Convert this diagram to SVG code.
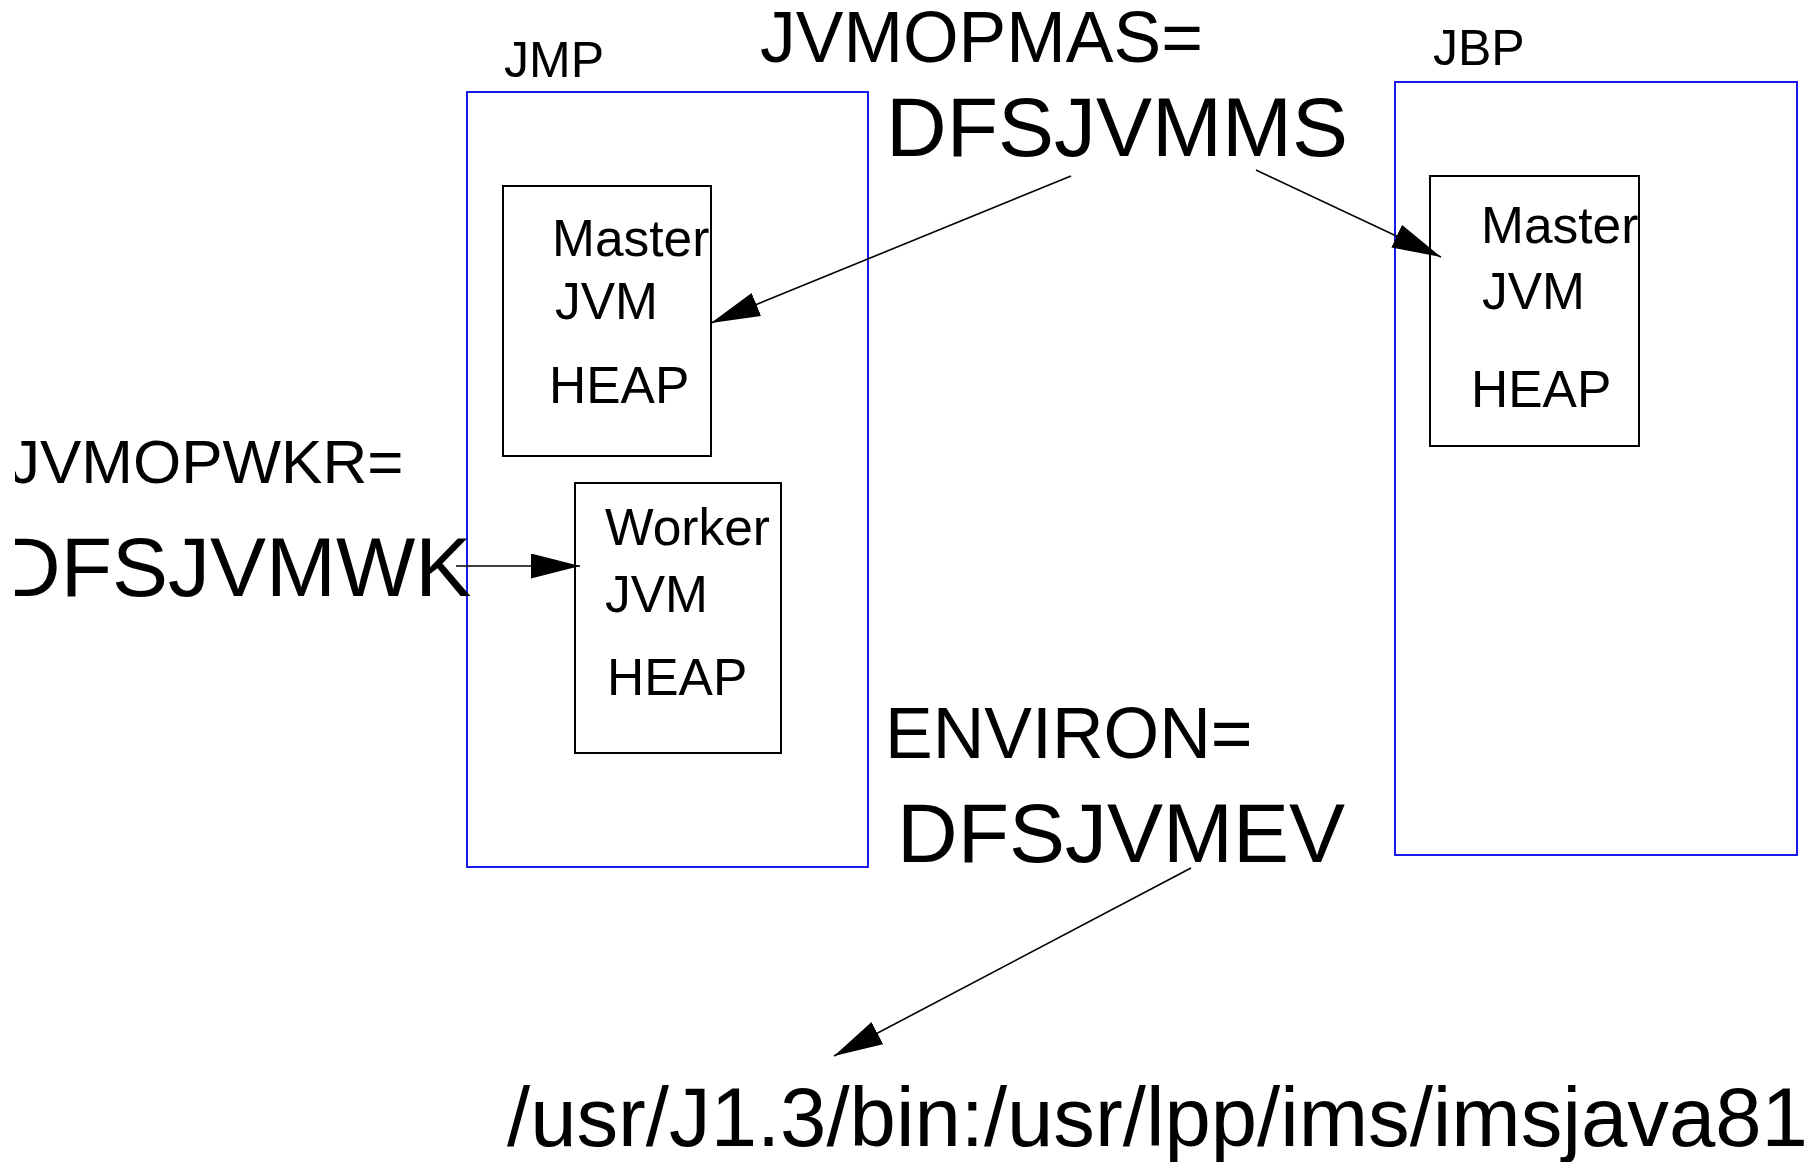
<svg xmlns="http://www.w3.org/2000/svg" width="1815" height="1162" viewBox="0 0 1815 1162">
<style>
text{font-family:"Liberation Sans",Arial,sans-serif;fill:#000}
.region{fill:none;stroke:#0000e6;stroke-width:1.8}
.heap{fill:none;stroke:#000;stroke-width:2}
.conn{fill:none;stroke:#000;stroke-width:1.6}
.t50{font-size:50px}
.t51{font-size:51.5px}
.t62{font-size:62px}
.t72{font-size:71.5px}
.t84{font-size:84px}
.tpath{font-size:83.3px}
</style>
<defs>
<marker id="arr" markerUnits="userSpaceOnUse" markerWidth="50" markerHeight="26" refX="49" refY="12.5" orient="auto">
<path d="M0,0 L49,12.5 L0,25 z" fill="#000"/>
</marker>
<clipPath id="leftclip"><rect x="15" y="0" width="1800" height="1162"/></clipPath>
</defs>
<rect width="1815" height="1162" fill="#fff"/>
<g id="jmp">
<rect class="region" x="467" y="92" width="401" height="775"/>
<text class="t50" x="504" y="77">JMP</text>
</g>
<g id="jbp">
<rect class="region" x="1395" y="82" width="402" height="773"/>
<text class="t50" x="1433" y="65">JBP</text>
</g>
<g id="jmp-master">
<rect class="heap" x="503" y="186" width="208" height="270"/>
<text class="t51" x="552" y="256">Master</text>
<text class="t51" x="555" y="319">JVM</text>
<text class="t51" x="549" y="403">HEAP</text>
</g>
<g id="jmp-worker">
<rect class="heap" x="575" y="483" width="206" height="270"/>
<text class="t51" x="605" y="545">Worker</text>
<text class="t51" x="605" y="612">JVM</text>
<text class="t51" x="607" y="695">HEAP</text>
</g>
<g id="jbp-master">
<rect class="heap" x="1430" y="176" width="209" height="270"/>
<text class="t51" x="1481" y="243">Master</text>
<text class="t51" x="1482" y="309">JVM</text>
<text class="t51" x="1471" y="407">HEAP</text>
</g>
<g id="jvmopmas">
<text class="t72" x="760" y="62">JVMOPMAS=</text>
<text class="t84" x="886" y="156">DFSJVMMS</text>
</g>
<g id="jvmopwkr" clip-path="url(#leftclip)">
<text class="t62" x="9" y="483">JVMOPWKR=</text>
<text class="t84" x="0" y="596">DFSJVMWK</text>
</g>
<g id="environ">
<text class="t72" x="885" y="758">ENVIRON=</text>
<text class="t84" x="897" y="862">DFSJVMEV</text>
</g>
<g id="path-value">
<text class="tpath" x="507" y="1146">/usr/J1.3/bin:/usr/lpp/ims/imsjava81</text>
</g>
<g id="connectors">
<line class="conn" x1="1071" y1="176" x2="711" y2="323" marker-end="url(#arr)"/>
<line class="conn" x1="1256" y1="170" x2="1441" y2="257" marker-end="url(#arr)"/>
<line class="conn" x1="456" y1="566" x2="580" y2="566" marker-end="url(#arr)"/>
<line class="conn" x1="1191" y1="868" x2="834" y2="1056" marker-end="url(#arr)"/>
</g>
</svg>
